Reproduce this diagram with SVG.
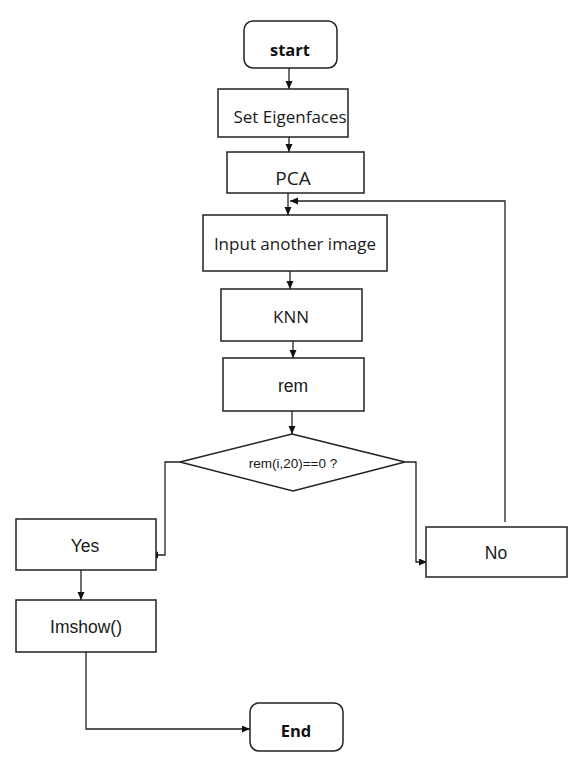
<svg xmlns="http://www.w3.org/2000/svg" width="580" height="777" viewBox="0 0 580 777">
<style>
.box{fill:#fff;stroke:#222;stroke-width:1.5}
.t1{font-family:"Open Sans","Noto Sans",sans-serif;font-size:17px;fill:#1a1a1a;text-anchor:middle}
.t2{font-family:"Liberation Sans",Arial,sans-serif;font-size:17.5px;fill:#1a1a1a;text-anchor:middle}
.tb{font-family:"Open Sans","Noto Sans",sans-serif;font-size:16.5px;font-weight:bold;fill:#111;text-anchor:middle}
.c{fill:none;stroke:#222;stroke-width:1.3;marker-end:url(#ah)}
</style>
<defs>
<marker id="ah" markerUnits="userSpaceOnUse" markerWidth="9" markerHeight="8" refX="8" refY="3.5" orient="auto">
<path d="M0,0 L8,3.5 L0,7 z" fill="#111"/>
</marker>
</defs>
<rect width="580" height="777" fill="#fff"/>
<g id="connectors">
<path class="c" d="M289,68 V89"/>
<path class="c" d="M289,137 V152"/>
<path class="c" d="M288,193 V215"/>
<path class="c" d="M290,271 V289"/>
<path class="c" d="M293,341 V358"/>
<path class="c" d="M292,411 V434"/>
<path class="c" d="M180,462 H165 V555 H150"/>
<path class="c" d="M81,570 V600"/>
<path class="c" d="M86,652 V729 H250"/>
<path class="c" d="M405,462 H416 V562 H427"/>
<path class="c" d="M505,522 V201 H290"/>
</g>
<g id="start"><rect class="box" x="244" y="21" width="93" height="47" rx="9"/><text class="tb" x="290" y="56">start</text></g>
<g id="seteigen"><rect class="box" x="218" y="89" width="130" height="48"/><text class="t1" x="290" y="123">Set Eigenfaces</text></g>
<g id="pca"><rect class="box" x="227" y="152" width="137" height="41"/><text class="t1" x="293" y="185" style="font-size:19px">PCA</text></g>
<g id="input"><rect class="box" x="203" y="215" width="184" height="56"/><text class="t1" x="295" y="250">Input another image</text></g>
<g id="knn"><rect class="box" x="221" y="289" width="141" height="52"/><text class="t1" x="291" y="323">KNN</text></g>
<g id="rem"><rect class="box" x="223" y="358" width="141" height="53"/><text class="t2" x="293" y="392">rem</text></g>
<g id="decision"><polygon class="box" points="292,434 405,462 293,491 180,462"/><text class="t2" x="293" y="468" style="font-size:13.5px">rem(i,20)==0 ?</text></g>
<g id="yes"><rect class="box" x="16" y="519" width="140" height="51"/><text class="t2" x="85" y="552">Yes</text></g>
<g id="imshow"><rect class="box" x="16" y="600" width="140" height="52"/><text class="t2" x="86" y="633">Imshow()</text></g>
<g id="no"><rect class="box" x="426" y="527" width="141" height="50"/><text class="t2" x="496" y="559">No</text></g>
<g id="end"><rect class="box" x="250" y="703" width="93" height="48" rx="9"/><text class="tb" x="296" y="737">End</text></g>
</svg>
